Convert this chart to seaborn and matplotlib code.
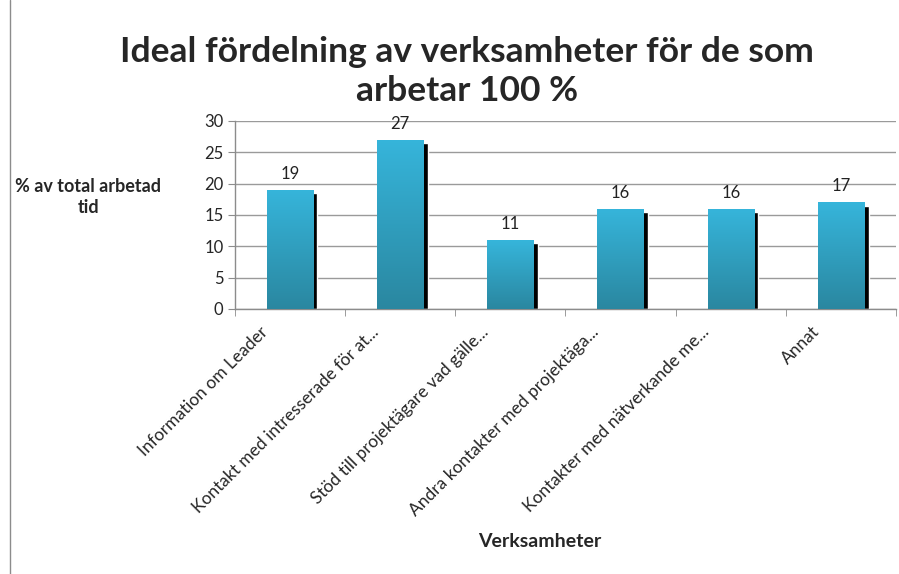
import numpy as np
import pandas as pd
import matplotlib
matplotlib.use("Agg")
import matplotlib.pyplot as plt
import matplotlib.transforms as mtrans
from matplotlib.colors import LinearSegmentedColormap
from matplotlib.lines import Line2D
import seaborn as sns

# Data ==============================================================================
categories = [
    "Information om Leader",
    "Kontakt med intresserade för at...",
    "Stöd till projektägare vad gälle...",
    "Andra kontakter med projektäga...",
    "Kontakter med nätverkande me...",
    "Annat",
]
values = [19, 27, 11, 16, 16, 17]
yticks = [0, 5, 10, 15, 20, 25, 30]

df = pd.DataFrame({"cat": categories, "val": values})

# Style ==============================================================================
sns.set_style("white")
plt.rcParams["font.family"] = ["Lato", "DejaVu Sans"]

fig = plt.figure(figsize=(8.99, 5.74), dpi=100)
ax = fig.add_axes([0.261, 0.4617, 0.736, 0.3275])

# shadow bars (black, shifted right and down)
x = np.arange(len(values))
ax.bar(x + 0.04, np.array(values) - 0.5, width=0.42, color="black", zorder=2)

sns.barplot(data=df, x="cat", y="val", ax=ax, width=0.42, color="#33afd4",
            linewidth=0, zorder=3)

cmap = LinearSegmentedColormap.from_list("bar", ["#2a87a0", "#36b5db"])
grad = np.linspace(0, 1, 256).reshape(-1, 1)
for p in ax.patches[len(values):]:
    x0, y0 = p.get_x(), p.get_y()
    w, h = p.get_width(), p.get_height()
    im = ax.imshow(grad, cmap=cmap, origin="lower", aspect="auto",
                   extent=[x0, x0 + w, y0, y0 + h], zorder=4)
    im.set_clip_path(p)
    ax.text(x0 + w / 2, h + 1.3, f"{h:g}", ha="center", va="bottom",
            fontsize=12, color="#222222", zorder=5)

ax.set_xlim(-0.5, len(values) - 0.5)
ax.set_ylim(0, 30)
ax.set_yticks(yticks)
ax.yaxis.grid(True, color="#9a9a9a", linewidth=1)
ax.set_axisbelow(True)

for s in ["top", "right"]:
    ax.spines[s].set_visible(False)
for s in ["left", "bottom"]:
    ax.spines[s].set_color("#8c8c8c")
    ax.spines[s].set_linewidth(1)

ax.tick_params(axis="y", direction="out", length=5, color="#8c8c8c",
               labelsize=12, pad=3, left=True)
ax.set_xticks(np.arange(-0.5, len(values)), minor=True)
ax.tick_params(axis="x", which="minor", direction="out", length=5,
               color="#8c8c8c", bottom=True)
ax.tick_params(axis="x", which="major", length=0, labelsize=12.5, pad=6)
ax.set_xticks(x)
ax.set_xticklabels(categories, rotation=45, ha="right", va="center",
                   rotation_mode="anchor")
shift = mtrans.ScaledTranslation(-24 / 100, -12 / 100, fig.dpi_scale_trans)
for lab in ax.get_xticklabels():
    lab.set_transform(lab.get_transform() + shift)

ax.set_xlabel("")
ax.set_ylabel("")

fig.text(0.098, 0.657, "% av total arbetad\ntid", ha="center", va="center",
         fontsize=13, fontweight="bold", linespacing=1.25)
fig.text(0.60, 0.057, "Verksamheter", ha="center", va="center",
         fontsize=14, fontweight="bold")
fig.text(0.519, 0.875, "Ideal fördelning av verksamheter för de som\narbetar 100 %",
         ha="center", va="center", fontsize=25.5, fontweight="bold",
         linespacing=1.28)

fig.add_artist(Line2D([0.0115, 0.0115], [0, 1], color="#8c8c8c", linewidth=1,
                      transform=fig.transFigure))

fig.savefig("out.png", dpi=100)
